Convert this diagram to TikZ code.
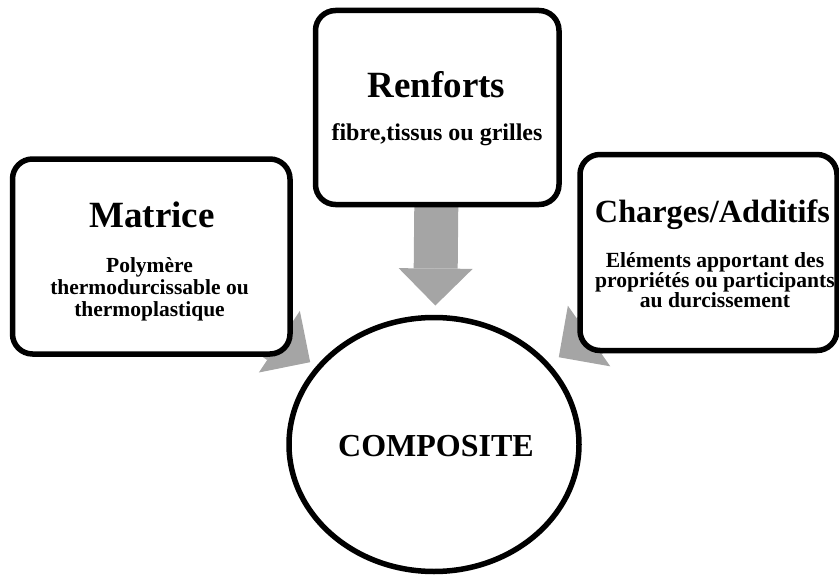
\documentclass[tikz,border=0pt]{standalone}
\usepackage{fontspec}
\setmainfont{Liberation Serif}
\usetikzlibrary{shapes.geometric,arrows.meta,backgrounds}
\definecolor{arrowgray}{HTML}{A5A5A5}
\tikzset{
  panel/.style={draw, line width=5.5pt, rounded corners=20pt, fill=white,
    inner sep=0pt, outer sep=0pt, minimum height=195pt},
  hub/.style={ellipse, draw, line width=5.5pt, fill=white, inner sep=0pt,
    outer sep=0pt, minimum width=290pt, minimum height=254pt},
  title/.style={anchor=base, inner sep=0pt, font=\bfseries\fontsize{37}{40}\selectfont},
  body/.style={anchor=base, inner sep=0pt, align=center,
    font=\bfseries\fontsize{21.5}{22}\selectfont},
  flow/.style={line width=44pt, arrowgray,
    -{Triangle[width=74pt,length=37pt,line width=0pt]}}
}
\begin{document}
\begin{tikzpicture}[x=1pt,y=-1pt]
\useasboundingbox (0,0) rectangle (839,578);

% the three ingredient panels
\node[panel, minimum width=277.5pt] (matrice) at (151.25,256.5) {};
\node[panel, minimum width=243.5pt, minimum height=194pt] (renforts) at (437.25,107.5) {};
\node[panel, minimum width=257pt, minimum height=196pt] (charges) at (708.5,252.5) {};

% the result
\node[hub] (comp) at (434,444.5) {};
\node[anchor=base, inner sep=0pt, font=\bfseries\fontsize{32}{36}\selectfont]
  (compt) at (436,456) {COMPOSITE};

% panel texts (multi-line bodies sit on the baseline of their last line)
\node[title] (matt) at (152,227) {Matrice};
\node[body] (matb) at (149.5,316) {Polymère\\thermodurcissable ou\\thermoplastique};

\node[title] (rent) at (436.5,98) {Renforts};
\node[anchor=base, inner sep=0pt, font=\bfseries\fontsize{24}{26}\selectfont]
  (renb) at (437,140) {fibre,tissus ou grilles};

\node[title, font=\bfseries\fontsize{32.3}{36}\selectfont] (chat) at (712.5,222) {Charges/Additifs};
\node[body, font=\bfseries\fontsize{21.6}{20}\selectfont] (chab) at (715,307)
  {Eléments apportant des\\propriétés ou participants\\au durcissement};

% block arrows running behind the panels
\begin{scope}[on background layer]
  \draw[flow, shorten >=12pt] (renforts.center) -- (comp);
  \draw[flow, shorten >=10pt] (matrice.center) -- (comp);
  \draw[flow, shorten >=14pt] (charges.center) -- (comp);
\end{scope}
\end{tikzpicture}
\end{document}
